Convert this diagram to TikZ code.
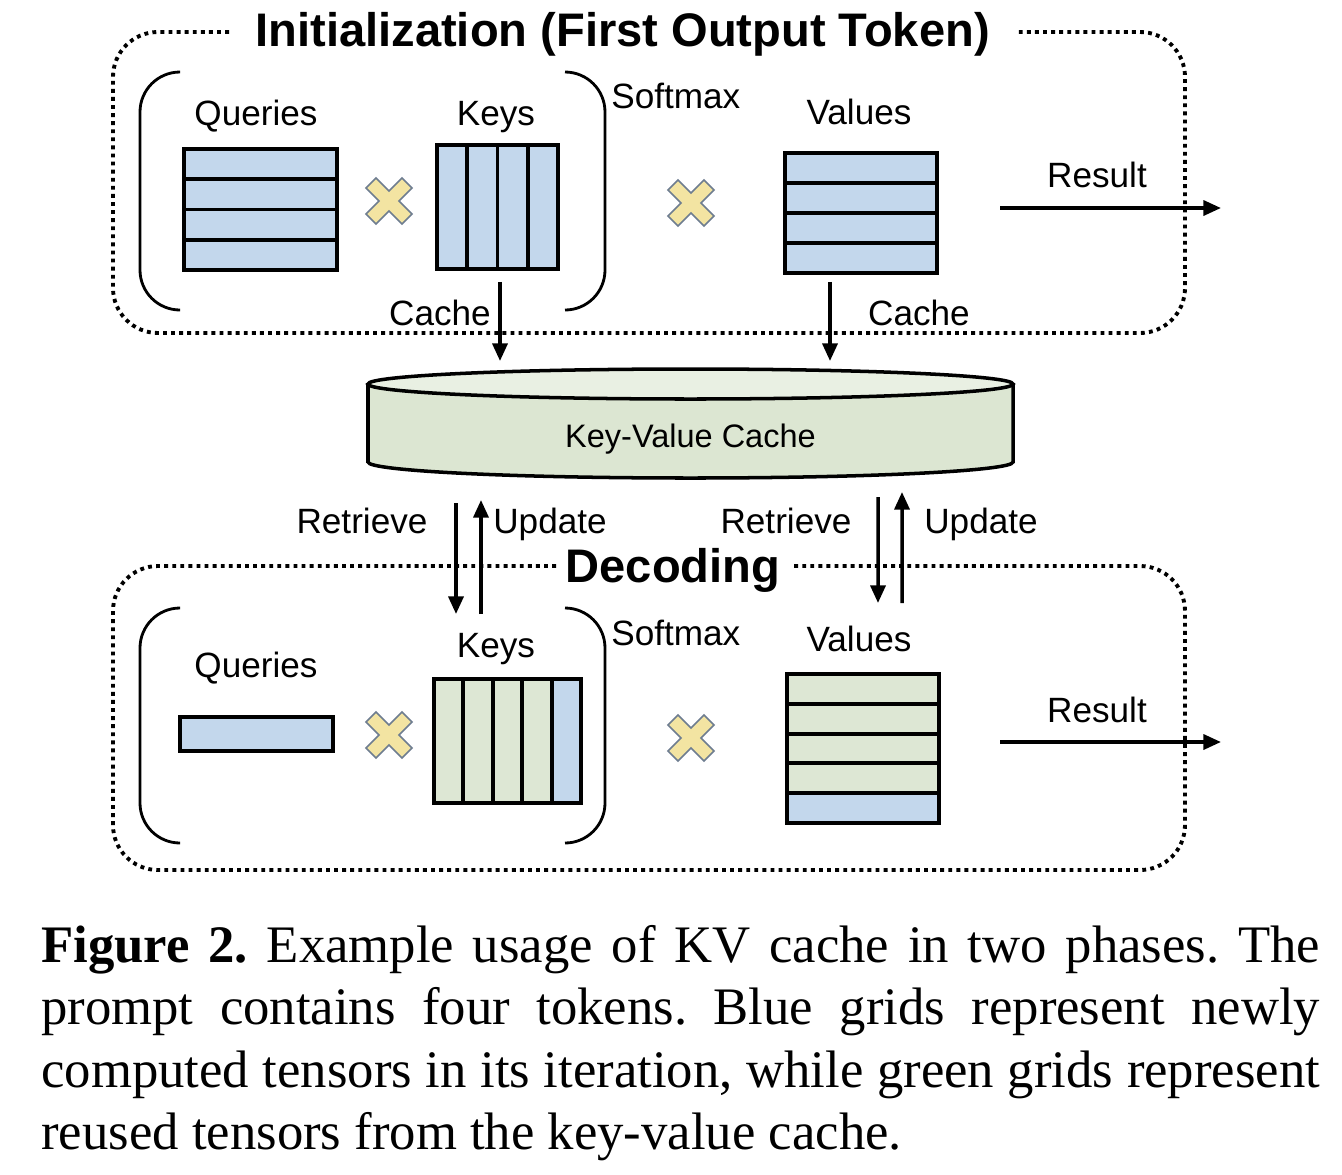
\documentclass[tikz,border=0pt]{standalone}
\usepackage{fontspec}
\setmainfont{Liberation Sans}
\newfontfamily\capfont{Liberation Serif}
\usetikzlibrary{arrows.meta,calc}
\definecolor{gblue}{HTML}{C3D7EC}
\definecolor{ggreen}{HTML}{DDE7D4}
\definecolor{cylbody}{HTML}{DCE6D2}
\definecolor{cyltop}{HTML}{E9F0E3}
\definecolor{xfill}{HTML}{F3E4A2}
\definecolor{xline}{HTML}{6E7D90}
\frenchspacing
\tikzset{
  lbl/.style={font=\fontsize{20}{24}\selectfont, inner sep=0pt, anchor=base},
  ttl/.style={font=\fontsize{26.8}{31}\selectfont\bfseries, inner sep=0pt, anchor=base},
  kvl/.style={font=\fontsize{18.5}{22}\selectfont, inner sep=0pt, anchor=base},
  capl/.style={font=\capfont\fontsize{30}{35}\selectfont, inner sep=0pt, anchor=base west},
  gridbox/.style={draw, line width=2.2pt, outer sep=0pt, inner sep=0pt},
  gline/.style={line width=2.2pt},
  arr/.style={line width=2pt, -{Triangle[length=10pt,width=8.5pt]}},
  paren/.style={line width=1.6pt, rounded corners=0.8cm},
  dotbox/.style={line width=2.2pt, dash pattern=on 2.2pt off 2.4pt, rounded corners=0.9cm},
  xmark/.pic={\filldraw[fill=xfill, draw=xline, line width=0.9pt]
    (-13,-23) -- (0,-10) -- (13,-23) -- (23,-13) -- (10,0) -- (23,13) -- (13,23)
    -- (0,10) -- (-13,23) -- (-23,13) -- (-10,0) -- (-23,-13) -- cycle;}
}
\begin{document}
\begin{tikzpicture}[x=0.02cm, y=-0.02cm]
\fill[white] (0,0) rectangle (1342,1174);
\useasboundingbox (0,0) rectangle (1342,1174);

% ---------- dotted phase boxes ----------
\draw[dotbox] (229,32) -- (113,32) -- (113,333) -- (1185,333) -- (1185,32) -- (1018,32);
\draw[dotbox] (556,566) -- (113,566) -- (113,870) -- (1185,870) -- (1185,566) -- (792,566);
\node[ttl] (tInit) at (622.5,46) {Initialization (First Output Token)};
\node[ttl] (tDec) at (673,582) {Decoding};

% ---------- Initialization phase ----------
\draw[paren] (180,72) -- (140,72) -- (140,310) -- (180,310);
\draw[paren] (565,72) -- (605,72) -- (605,310) -- (565,310);

\node[lbl] (qlabI) at (256,125) {Queries};
\node[lbl] (klabI) at (496,125) {Keys};
\node[lbl, anchor=base west] (smI) at (611,108) {Softmax};
\node[lbl] (vlabI) at (859,124) {Values};
\node[lbl] (resI) at (1097,187) {Result};

\node[gridbox, fill=gblue, minimum width=3.06cm, minimum height=2.42cm] (qI) at (260.5,209.5) {};
\foreach \i in {1,2,3}
  \draw[gline] ($(qI.north west)!\i/4!(qI.south west)$) -- ($(qI.north east)!\i/4!(qI.south east)$);
\node[gridbox, fill=gblue, minimum width=2.42cm, minimum height=2.48cm] (kI) at (497.5,207) {};
\foreach \i in {1,2,3}
  \draw[gline] ($(kI.north west)!\i/4!(kI.north east)$) -- ($(kI.south west)!\i/4!(kI.south east)$);
\node[gridbox, fill=gblue, minimum width=3.04cm, minimum height=2.4cm] (vI) at (861,213) {};
\foreach \i in {1,2,3}
  \draw[gline] ($(vI.north west)!\i/4!(vI.south west)$) -- ($(vI.north east)!\i/4!(vI.south east)$);

\pic at (389,201) {xmark};
\pic at (691,203) {xmark};

\coordinate (resIa) at (1000,208);
\coordinate (resIb) at (1221,208);
\draw[arr] (resIa) -- (resIb);

% ---------- Key-value cache ----------
\node[minimum width=12.9cm, minimum height=2.18cm, inner sep=0pt, outer sep=0pt] (kvc) at (690.5,423.5) {};
\fill[cylbody] (368,384) -- (368,462)
  .. controls (368,470.8) and (512.4,478) .. (690.5,478)
  .. controls (868.6,478) and (1013,470.8) .. (1013,462) -- (1013,384) -- cycle;
\draw[line width=2pt] (368,384) -- (368,462)
  .. controls (368,470.8) and (512.4,478) .. (690.5,478)
  .. controls (868.6,478) and (1013,470.8) .. (1013,462) -- (1013,384);
\filldraw[fill=cyltop, line width=2pt] (690.5,384) ellipse [x radius=322.5, y radius=15];
\node[kvl] (kvlabel) at (690.5,447) {Key-Value Cache};

\node[lbl] (cacheL) at (440,325) {Cache};
\node[lbl] (cacheR) at (919,325) {Cache};
\draw[arr] ($(kI.south)+(2.5,13)$) -- ($(kI.south |- kvc.north)+(2.5,-8)$);
\draw[arr] ($(vI.south)+(-31,9)$) -- ($(vI.south |- kvc.north)+(-31,-8)$);

% ---------- retrieve / update ----------
\node[lbl] (retL) at (362,533) {Retrieve};
\node[lbl] (updL) at (550,533) {Update};
\node[lbl] (retR) at (786,533) {Retrieve};
\node[lbl] (updR) at (981,533) {Update};
\coordinate (rLend) at (456,614);
\coordinate (uLbeg) at (481,614);
\coordinate (rRend) at (878,603);
\coordinate (uRbeg) at (902,603);
\draw[arr] ($(kvc.south)+(-234.5,25)$) -- (rLend);
\draw[arr] (uLbeg) -- ($(kvc.south)+(-209.5,22)$);
\draw[arr] ($(kvc.south)+(187.5,19)$) -- (rRend);
\draw[arr] (uRbeg) -- ($(kvc.south)+(211.5,14)$);

% ---------- Decoding phase ----------
\draw[paren] (180,608) -- (140,608) -- (140,843) -- (180,843);
\draw[paren] (565,608) -- (605,608) -- (605,843) -- (565,843);

\node[lbl] (qlabD) at (256,677) {Queries};
\node[lbl] (klabD) at (496,657) {Keys};
\node[lbl, anchor=base west] (smD) at (611,645) {Softmax};
\node[lbl] (vlabD) at (859,651) {Values};
\node[lbl] (resD) at (1097,722) {Result};

\node[gridbox, fill=gblue, minimum width=3.06cm, minimum height=0.68cm] (qD) at (256.5,734) {};

\node[gridbox, fill=ggreen, minimum width=2.94cm, minimum height=2.48cm] (kD) at (507.5,741) {};
\fill[gblue] ($(kD.north west)!4/5!(kD.north east)$) rectangle (kD.south east);
\draw[gline] (kD.north west) rectangle (kD.south east);
\foreach \i in {1,2,3,4}
  \draw[gline] ($(kD.north west)!\i/5!(kD.north east)$) -- ($(kD.south west)!\i/5!(kD.south east)$);

\node[gridbox, fill=ggreen, minimum width=3.04cm, minimum height=2.98cm] (vD) at (863,748.5) {};
\fill[gblue] ($(vD.north west)!4/5!(vD.south west)$) rectangle (vD.south east);
\draw[gline] (vD.north west) rectangle (vD.south east);
\foreach \i in {1,2,3,4}
  \draw[gline] ($(vD.north west)!\i/5!(vD.south west)$) -- ($(vD.north east)!\i/5!(vD.south east)$);

\pic at (389,735) {xmark};
\pic at (691,738) {xmark};

\coordinate (resDa) at (1000,742);
\coordinate (resDb) at (1221,742);
\draw[arr] (resDa) -- (resDb);

% ---------- caption ----------
\node[capl] (cap1) at (41,962) {\makebox[25.58cm][s]{\textbf{Figure 2.} Example usage of KV cache in two phases. The}};
\node[capl] (cap2) at (41,1024) {\makebox[25.58cm][s]{prompt contains four tokens. Blue grids represent newly}};
\node[capl] (cap3) at (41,1087) {\makebox[25.58cm][s]{computed tensors in its iteration, while green grids represent}};
\node[capl] (cap4) at (41,1149) {reused tensors from the key-value cache.};
\end{tikzpicture}
\end{document}
